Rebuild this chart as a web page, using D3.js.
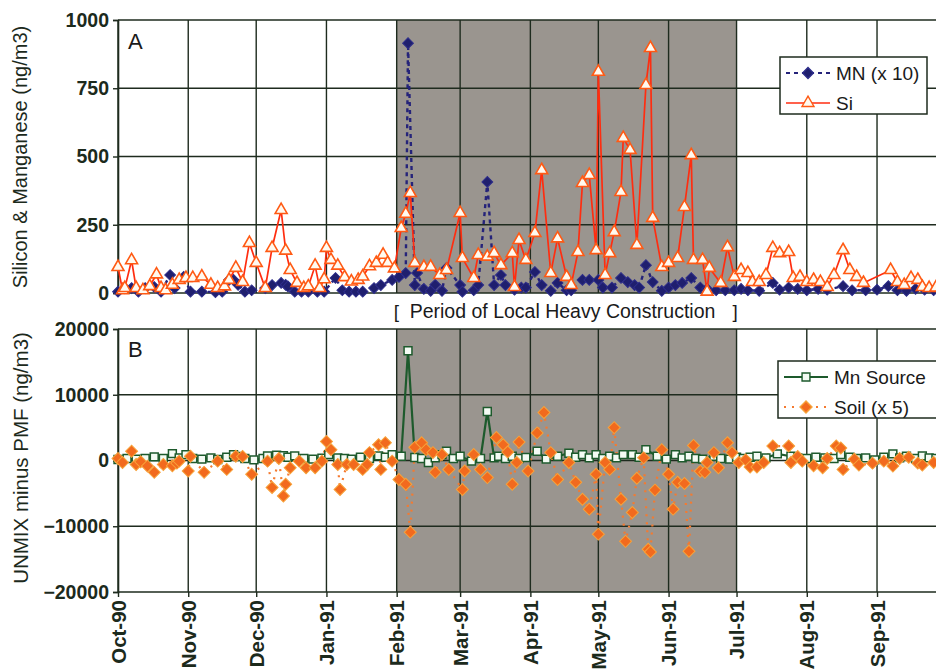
<!DOCTYPE html>
<html>
<head>
<meta charset="utf-8">
<script src="https://cdn.jsdelivr.net/npm/d3@7"></script>
<style>
  html, body { margin: 0; padding: 0; background: #fff; }
  svg { display: block; font-family: "Liberation Sans", Arial, sans-serif; }
</style>
</head>
<body>
<svg id="chart" width="936" height="672"></svg>
<script>
// data: [days since 1 Oct 1990, value]
const siData = [[0,95],[2,10],[3,18],[6,120],[8,18],[11,10],[14,25],[17,68],[19,18],[21,10],[24,30],[27,48],[30,55],[33,55],[37,60],[41,30],[44,18],[47,24],[49,48],[52,92],[55,40],[58,183],[61,110],[65,18],[68,165],[72,304],[74,155],[76,84],[79,37],[82,18],[84,24],[87,100],[89,18],[91,50],[92,165],[94,121],[97,100],[100,58],[103,42],[106,48],[108,60],[111,98],[114,110],[117,140],[119,110],[122,90],[125,238],[127,290],[129,366],[131,110],[135,95],[138,96],[142,66],[145,84],[151,293],[152,128],[157,55],[159,139],[163,133],[166,146],[169,102],[174,146],[175,22],[177,194],[180,121],[184,220],[187,450],[191,73],[194,200],[198,59],[200,29],[203,150],[205,403],[208,432],[211,157],[212,810],[215,66],[217,146],[219,223],[222,370],[223,568],[226,524],[229,176],[233,762],[235,897],[236,275],[240,95],[243,110],[247,128],[250,315],[253,505],[254,121],[258,121],[260,5],[261,92],[266,37],[269,168],[272,59],[275,84],[278,73],[280,40],[283,40],[286,66],[289,165],[292,146],[296,150],[298,55],[301,59],[304,40],[307,48],[310,40],[313,22],[316,66],[320,157],[323,84],[326,59],[329,37],[341,84],[344,40],[347,29],[350,55],[353,48],[355,22],[358,18],[361,20]];

const mnData = [[0,5],[3,18],[6,18],[9,5],[12,18],[16,22],[19,5],[23,66],[25,18],[29,59],[32,5],[37,5],[43,3],[46,5],[49,48],[51,48],[53,30],[56,5],[59,10],[65,18],[68,29],[72,37],[74,30],[75,24],[78,5],[81,5],[84,5],[88,5],[91,5],[96,55],[99,10],[102,5],[105,5],[108,5],[113,18],[116,29],[121,48],[124,59],[127,73],[128,915],[131,29],[132,73],[135,15],[138,8],[140,30],[143,8],[145,92],[151,29],[152,5],[157,10],[159,29],[163,407],[166,29],[169,66],[171,29],[175,12],[178,20],[180,20],[184,77],[187,29],[191,8],[194,37],[198,10],[200,10],[205,48],[208,48],[212,48],[214,20],[218,20],[222,55],[225,40],[228,29],[230,20],[233,102],[236,40],[240,8],[243,20],[246,29],[249,37],[253,55],[257,20],[260,15],[264,10],[268,10],[272,10],[275,15],[278,10],[283,8],[289,37],[292,12],[296,20],[300,15],[304,10],[309,15],[313,12],[320,25],[324,10],[330,10],[335,12],[340,25],[344,10],[348,8],[352,15],[356,12],[360,10]];

const mnSourceData = [[0,150],[4,300],[8,200],[12,300],[16,550],[20,300],[24,1050],[27,400],[30,900],[33,300],[37,200],[41,400],[44,150],[48,500],[51,900],[53,600],[56,300],[60,100],[64,300],[66,700],[70,800],[73,750],[75,500],[78,700],[82,300],[86,200],[90,350],[93,900],[97,400],[100,300],[103,200],[107,500],[111,300],[115,700],[118,500],[121,900],[125,650],[128,16700],[131,450],[134,300],[137,-300],[140,400],[143,900],[145,1400],[148,300],[151,650],[156,-100],[160,300],[163,7450],[166,400],[168,650],[171,300],[174,650],[177,300],[180,450],[185,1400],[189,200],[194,650],[199,1100],[202,500],[205,900],[208,400],[211,900],[214,300],[217,650],[220,400],[223,900],[227,900],[230,500],[233,1650],[238,650],[242,200],[246,900],[249,400],[252,650],[255,300],[258,200],[263,650],[266,300],[270,200],[273,500],[276,300],[279,500],[282,650],[286,400],[291,1000],[297,650],[300,400],[304,300],[308,500],[312,400],[316,300],[319,900],[323,500],[326,300],[330,400],[334,100],[338,500],[342,1000],[345,400],[348,650],[352,300],[355,700],[358,400],[361,300]];

const soilData = [[0,300],[2,-300],[6,1400],[8,-600],[10,-200],[13,-850],[16,-1800],[20,-600],[24,-800],[26,-400],[27,-100],[31,-1600],[32,650],[38,-1800],[44,-100],[48,-1350],[52,650],[55,600],[59,-2100],[66,-100],[68,-4100],[71,300],[73,-5400],[74,-3600],[76,-1100],[80,-100],[83,-1100],[87,-1100],[90,-100],[92,2900],[94,1650],[97,-600],[98,-4400],[101,-600],[104,-600],[108,-1350],[110,-600],[111,1200],[115,2400],[116,-1350],[118,2700],[121,-100],[124,-2900],[127,-3600],[129,-10900],[131,2000],[134,2700],[136,1650],[139,1200],[140,-1800],[143,900],[146,-1350],[152,-4400],[153,-1600],[157,900],[160,-1350],[163,-2600],[167,3500],[170,2400],[172,1300],[174,-3600],[176,-300],[177,2800],[181,-1600],[185,4200],[188,7300],[191,1200],[194,-2900],[199,-300],[202,-3300],[205,-5900],[208,-7400],[211,-2100],[212,-11200],[215,-300],[217,-1350],[219,5000],[222,-5900],[224,-12300],[227,-7900],[229,-2700],[232,400],[234,-13500],[235,-13900],[237,-4500],[240,1650],[243,-2100],[245,-7400],[247,-3300],[250,-3500],[252,-13800],[254,2300],[257,-1650],[259,-1800],[260,-300],[263,1200],[265,-1100],[269,2700],[271,1200],[274,-300],[277,100],[279,-1000],[282,-1000],[285,-300],[289,2200],[296,2200],[297,-300],[300,600],[302,-100],[307,-800],[311,-1100],[313,300],[317,2200],[319,1900],[320,-1350],[325,200],[327,-700],[333,-400],[338,-100],[342,-850],[345,300],[349,500],[353,-400],[355,-700],[360,-300]];

const yTicksA = [0, 250, 500, 750, 1000];
const yTicksB = [-20000, -10000, 0, 10000, 20000];

const START = new Date(1990, 9, 1);
const monthTicks = d3.timeMonth.range(START, new Date(1991, 8, 2));
const constructionStart = new Date(1991, 1, 1);
const constructionEnd = new Date(1991, 6, 1);

const gridColor = "#1e2b1e";
const textColor = "#1c2a1c";
const shadeColor = "#9a958f";

const svg = d3.select("#chart");

const x = d3.scaleTime()
    .domain([START, new Date(1991, 9, 1)])
    .range([118, 945]);
const toDate = (d) => d3.timeDay.offset(START, d[0]);

const yA = d3.scaleLinear().domain([0, 1000]).range([293, 20]);
const yB = d3.scaleLinear().domain([-20000, 20000]).range([592, 329]);

function drawFrame(y, ticks) {
    const [bottom, top] = y.range();
    // shaded construction period
    svg.append("rect")
        .attr("x", x(constructionStart))
        .attr("y", top)
        .attr("width", x(constructionEnd) - x(constructionStart))
        .attr("height", bottom - top)
        .attr("fill", shadeColor);

    // horizontal gridlines
    svg.append("g")
        .selectAll("line")
        .data(ticks)
        .join("line")
        .attr("x1", 118).attr("x2", 936)
        .attr("y1", (d) => y(d)).attr("y2", (d) => y(d))
        .attr("stroke", gridColor)
        .attr("stroke-width", 1.4);

    // vertical gridlines at month starts
    svg.append("g")
        .selectAll("line")
        .data(monthTicks)
        .join("line")
        .attr("x1", (d) => x(d)).attr("x2", (d) => x(d))
        .attr("y1", top).attr("y2", bottom)
        .attr("stroke", gridColor)
        .attr("stroke-width", 1.4);

    const axis = svg.append("g")
        .attr("transform", "translate(118,0)")
        .call(d3.axisLeft(y).tickValues(ticks).tickSize(5).tickPadding(4).tickFormat(d3.format("d")));
    axis.select(".domain").attr("stroke", gridColor).attr("stroke-width", 1.6);
    axis.selectAll(".tick line").attr("stroke", gridColor).attr("stroke-width", 1.4);
    axis.selectAll("text")
        .attr("fill", textColor)
        .style("font-size", "19.5px")
        .style("font-weight", "bold")
        .style("font-family", "'Liberation Sans', Arial, sans-serif");
}

function addSymbols(data, y, symbol, size, fill, stroke, sw, rotate) {
    svg.append("g")
        .selectAll("path")
        .data(data)
        .join("path")
        .attr("d", d3.symbol().type(symbol).size(size))
        .attr("transform", (d) => `translate(${x(toDate(d))},${y(d[1])})` + (rotate ? " rotate(45)" : ""))
        .attr("fill", fill)
        .attr("stroke", stroke)
        .attr("stroke-width", sw);
}

// ---------- Panel A ----------
drawFrame(yA, yTicksA);

const lineA = d3.line().x((d) => x(toDate(d))).y((d) => yA(d[1]));

svg.append("path")
    .datum(mnData)
    .attr("d", lineA)
    .attr("fill", "none")
    .attr("stroke", "#25237a")
    .attr("stroke-width", 2.4)
    .attr("stroke-dasharray", "4,4");
addSymbols(mnData, yA, d3.symbolSquare, 58, "#1f1f6e", "#2d2d8a", 1, true);

svg.append("path")
    .datum(siData)
    .attr("d", lineA)
    .attr("fill", "none")
    .attr("stroke", "#ff2d10")
    .attr("stroke-width", 1.7);
addSymbols(siData, yA, d3.symbolTriangle, 62, "#fffaf0", "#ff5a14", 1.6, false);

svg.append("text")
    .attr("x", 128).attr("y", 49)
    .attr("fill", "#1a1a1a")
    .style("font-size", "22px")
    .text("A");

// ---------- Panel B ----------
drawFrame(yB, yTicksB);

const lineB = d3.line().x((d) => x(toDate(d))).y((d) => yB(d[1]));

svg.append("path")
    .datum(soilData)
    .attr("d", lineB)
    .attr("fill", "none")
    .attr("stroke", "#f47a30")
    .attr("stroke-width", 2.2)
    .attr("stroke-dasharray", "2,6");

svg.append("path")
    .datum(mnSourceData)
    .attr("d", lineB)
    .attr("fill", "none")
    .attr("stroke", "#1d5a2c")
    .attr("stroke-width", 2.2);
addSymbols(mnSourceData, yB, d3.symbolSquare, 62, "#f4fbf4", "#1d5a2c", 1.5, false);

addSymbols(soilData, yB, d3.symbolSquare, 72, "#f26a1e", "#f7a23a", 1, true);

svg.append("text")
    .attr("x", 128).attr("y", 357)
    .attr("fill", "#1a1a1a")
    .style("font-size", "22px")
    .text("B");

// x axis (month labels)
const xAxis = svg.append("g")
    .attr("transform", "translate(0,592)")
    .call(d3.axisBottom(x).tickValues(monthTicks).tickSize(5).tickPadding(6).tickFormat(d3.timeFormat("%b-%y")));
xAxis.select(".domain").remove();
xAxis.selectAll(".tick line").attr("stroke", gridColor).attr("stroke-width", 1.4);
xAxis.selectAll("text")
    .attr("transform", "rotate(-90)")
    .attr("x", -8)
    .attr("y", 0)
    .attr("dy", "0.35em")
    .style("text-anchor", "end")
    .attr("fill", textColor)
    .style("font-size", "20.5px")
    .style("font-weight", "bold")
    .style("font-family", "'Liberation Sans', Arial, sans-serif");

// axis titles
svg.append("text")
    .attr("transform", "translate(27,157) rotate(-90)")
    .attr("text-anchor", "middle")
    .attr("fill", textColor)
    .style("font-size", "20px")
    .text("Silicon & Manganese (ng/m3)");

svg.append("text")
    .attr("transform", "translate(28,458) rotate(-90)")
    .attr("text-anchor", "middle")
    .attr("fill", textColor)
    .style("font-size", "20.5px")
    .text("UNMIX minus PMF (ng/m3)");

// construction label
svg.append("text")
    .attr("x", x(constructionStart) - 3).attr("y", 318)
    .attr("fill", "#1a1a1a")
    .style("font-size", "19px")
    .text("[");
svg.append("text")
    .attr("x", x(constructionStart) + 13).attr("y", 318)
    .attr("fill", "#1a1a1a")
    .style("font-size", "19.5px")
    .text("Period of Local Heavy Construction");
svg.append("text")
    .attr("x", x(constructionEnd) - 4).attr("y", 318)
    .attr("fill", "#1a1a1a")
    .style("font-size", "19px")
    .text("]");

// ---------- Legends ----------
function legend(x0, y0, w, items) {
    const g = svg.append("g").attr("transform", `translate(${x0},${y0})`);
    g.append("rect")
        .attr("width", w).attr("height", 57)
        .attr("fill", "#fff")
        .attr("stroke", gridColor)
        .attr("stroke-width", 1.5);
    items.forEach((it, i) => {
        const cy = 16 + i * 30;
        g.append("line")
            .attr("x1", 6).attr("x2", 50)
            .attr("y1", cy).attr("y2", cy)
            .attr("stroke", it.stroke)
            .attr("stroke-width", it.width)
            .attr("stroke-dasharray", it.dash || null);
        g.append("path")
            .attr("d", d3.symbol().type(it.symbol).size(it.size))
            .attr("transform", `translate(28,${cy})` + (it.rotate ? " rotate(45)" : ""))
            .attr("fill", it.fill)
            .attr("stroke", it.mstroke)
            .attr("stroke-width", 1.4);
        g.append("text")
            .attr("x", 56).attr("y", cy)
            .attr("dy", "0.35em")
            .attr("fill", "#1a1a1a")
            .style("font-size", "19px")
            .text(it.label);
    });
}

legend(780, 57, 147, [
    { label: "MN (x 10)", stroke: "#25237a", width: 2.2, dash: "4,4", symbol: d3.symbolSquare, size: 58, fill: "#1f1f6e", mstroke: "#2d2d8a", rotate: true },
    { label: "Si", stroke: "#ff2d10", width: 1.7, symbol: d3.symbolTriangle, size: 62, fill: "#fffaf0", mstroke: "#ff5a14" }
]);

legend(778, 361, 165, [
    { label: "Mn Source", stroke: "#1d5a2c", width: 2.2, symbol: d3.symbolSquare, size: 62, fill: "#f4fbf4", mstroke: "#1d5a2c" },
    { label: "Soil (x 5)", stroke: "#f47a30", width: 2.2, dash: "2,6", symbol: d3.symbolSquare, size: 72, fill: "#f26a1e", mstroke: "#f7a23a", rotate: true }
]);
</script>
</body>
</html>
